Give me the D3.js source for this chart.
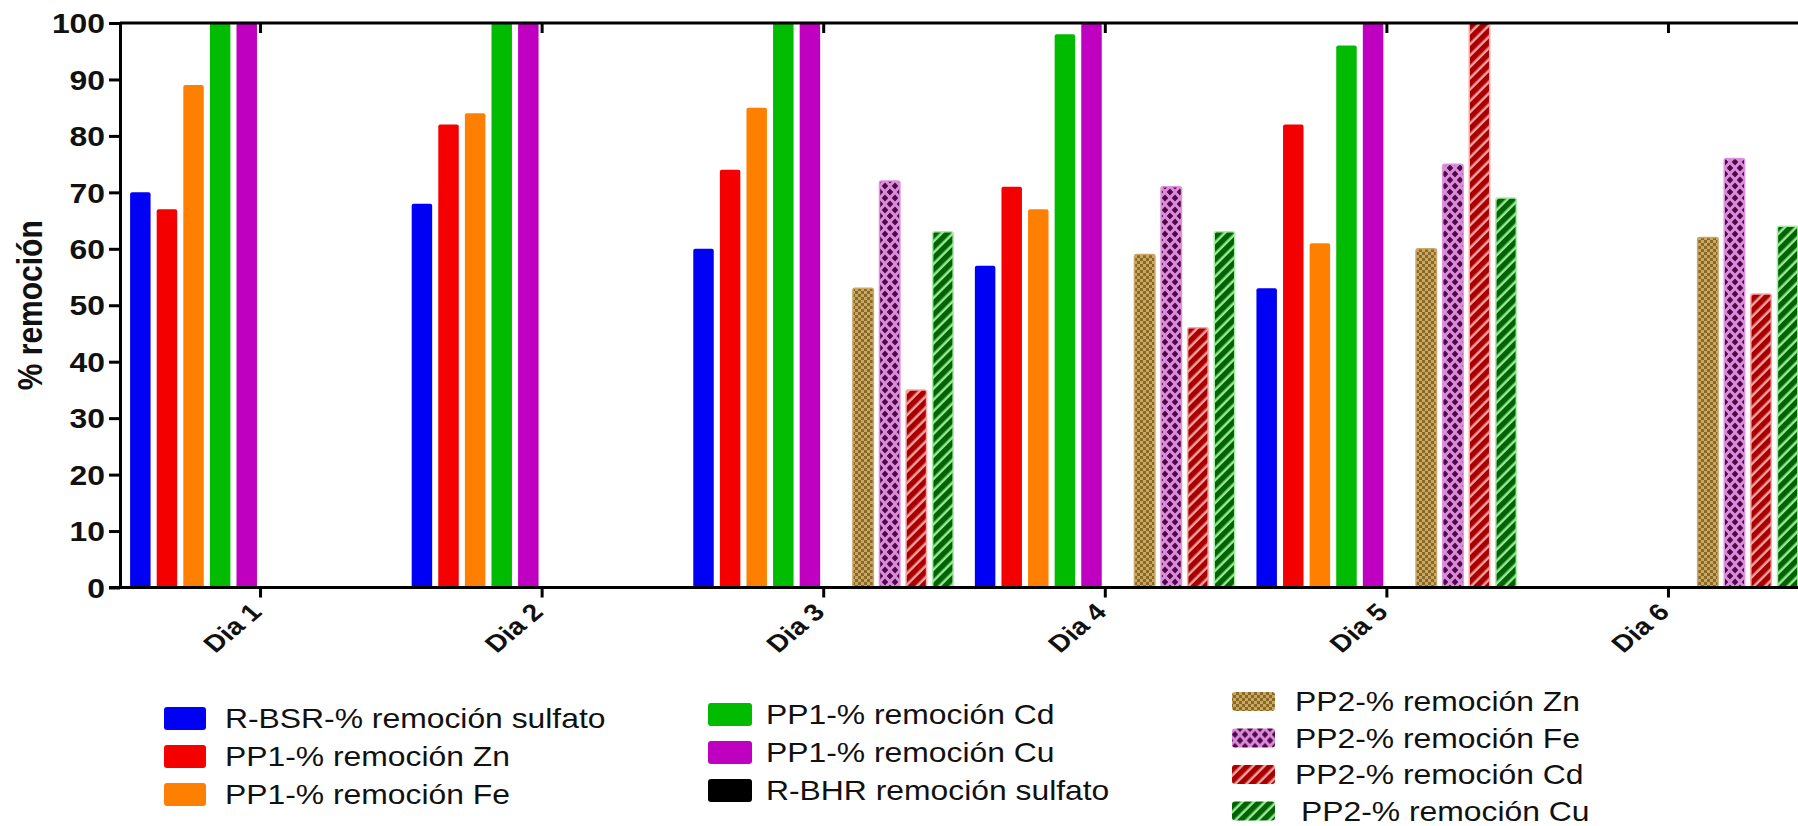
<!DOCTYPE html>
<meta charset="utf-8">
<style>
body { margin: 0; background: #fff; }
svg { display: block; }
text { font-family: "Liberation Sans", Arial, sans-serif; fill: #111; }
.axis path, .axis line { stroke: #000; stroke-width: 3px; }
</style>
<svg width="1798" height="826"></svg>
<script src="https://d3js.org/d3.v7.min.js"></script>
<script>

var days = ["Dia 1", "Dia 2", "Dia 3", "Dia 4", "Dia 5", "Dia 6"];

// one array per data set, one value per day (null = no bar)
var rbsrSulfato = [70, 68, 60, 57, 53, null];
var pp1Zn = [67, 82, 74, 71, 82, null];
var pp1Fe = [89, 84, 85, 67, 61, null];
var pp1Cd = [100, 100, 100, 98, 96, null];
var pp1Cu = [100, 100, 100, 100, 100, null];
var rbhrSulfato = [null, null, null, null, null, null];
var pp2Zn = [null, null, 53, 59, 60, 62];
var pp2Fe = [null, null, 72, 71, 75, 76];
var pp2Cd = [null, null, 35, 46, 100, 52];
var pp2Cu = [null, null, 63, 63, 69, 64];

var yTicks = [0, 10, 20, 30, 40, 50, 60, 70, 80, 90, 100];

var series = [
  { key: "rbsr", label: "R-BSR-% remoción sulfato", values: rbsrSulfato, fill: "#0000f5" },
  { key: "zn1", label: "PP1-% remoción Zn", values: pp1Zn, fill: "#f50000" },
  { key: "fe1", label: "PP1-% remoción Fe", values: pp1Fe, fill: "#ff8000" },
  { key: "cd1", label: "PP1-% remoción Cd", values: pp1Cd, fill: "#00bb00" },
  { key: "cu1", label: "PP1-% remoción Cu", values: pp1Cu, fill: "#c000c0" },
  { key: "rbhr", label: "R-BHR remoción sulfato", values: rbhrSulfato, fill: "#000" },
  { key: "zn2", label: "PP2-% remoción Zn", values: pp2Zn, fill: "url(#pZn)", edge: "#c9a86a" },
  { key: "fe2", label: "PP2-% remoción Fe", values: pp2Fe, fill: "url(#pFe)", edge: "#dc96dc" },
  { key: "cd2", label: "PP2-% remoción Cd", values: pp2Cd, fill: "url(#pCd)", edge: "#f7a8a8" },
  { key: "cu2", label: "PP2-% remoción Cu", values: pp2Cu, fill: "url(#pCu)", edge: "#a8eea8" }
];

var svg = d3.select("svg");
var plotLeft = 120, plotTop = 23, plotBottom = 587.5, plotRight = 1808;
var sx = 1.18; // the picture is a little wider than tall, text too

var defs = svg.append("defs");

// checker for PP2 Zn
var pz = defs.append("pattern").attr("id", "pZn").attr("patternUnits", "userSpaceOnUse")
    .attr("width", 6).attr("height", 6);
pz.append("rect").attr("width", 6).attr("height", 6).attr("fill", "#c9a862");
pz.append("rect").attr("width", 3).attr("height", 3).attr("fill", "#8a6828");
pz.append("rect").attr("x", 3).attr("y", 3).attr("width", 3).attr("height", 3).attr("fill", "#8a6828");

// diamonds for PP2 Fe
var pf = defs.append("pattern").attr("id", "pFe").attr("patternUnits", "userSpaceOnUse")
    .attr("width", 10).attr("height", 12);
pf.append("rect").attr("width", 10).attr("height", 12).attr("fill", "#da8cda");
pf.append("path").attr("d", "M5,2.5L8.3,6L5,9.5L1.7,6Z M0,-3.5L3.3,0L0,3.5L-3.3,0Z M10,-3.5L13.3,0L10,3.5L6.7,0Z M0,8.5L3.3,12L0,15.5L-3.3,12Z M10,8.5L13.3,12L10,15.5L6.7,12Z")
    .attr("fill", "#500848");

// stripes for PP2 Cd and Cu
function stripes(id, dark, light) {
  var p = defs.append("pattern").attr("id", id).attr("patternUnits", "userSpaceOnUse")
      .attr("width", 8).attr("height", 8).attr("patternTransform", "rotate(45)");
  p.append("rect").attr("width", 8).attr("height", 8).attr("fill", light);
  p.append("rect").attr("width", 5.5).attr("height", 8).attr("fill", dark);
}
stripes("pCd", "#a80000", "#f7a0a0");
stripes("pCu", "#006400", "#9be89b");

var x0 = d3.scaleBand().domain(days).range([plotLeft, plotRight])
    .paddingInner(0.0554).paddingOuter(0.025);
var x1 = d3.scaleBand().domain(series.map(function(s) { return s.key; }))
    .range([0, x0.bandwidth()]).paddingInner(0.23).paddingOuter(0.115);
var y = d3.scaleLinear().domain([0, 100]).range([plotBottom, plotTop]);

// bars
var bars = [];
series.forEach(function(s) {
  s.values.forEach(function(v, i) {
    if (v != null) bars.push({ s: s, day: days[i], v: v });
  });
});

svg.append("g").selectAll("rect")
  .data(bars)
  .enter().append("rect")
    .attr("x", function(d) { return x0(d.day) + x1(d.s.key); })
    .attr("y", function(d) { return y(d.v); })
    .attr("width", x1.bandwidth())
    .attr("height", function(d) { return y(0) - y(d.v); })
    .attr("rx", 2)
    .attr("fill", function(d) { return d.s.fill; })
    .attr("stroke", function(d) { return d.s.edge || "none"; })
    .attr("stroke-width", 1.5);

// axes
function stretch(sel) {
  sel.each(function() {
    var t = d3.select(this);
    var ax = +t.attr("x") || 0;
    t.attr("transform", "translate(" + ax + ",0) scale(" + sx + ",1) translate(" + (-ax) + ",0)");
  });
}

var yAxis = svg.append("g").attr("class", "axis")
    .attr("transform", "translate(" + plotLeft + ",0)")
    .call(d3.axisLeft(y).tickValues(yTicks).tickSize(11).tickSizeOuter(0).tickPadding(4));
yAxis.selectAll("text")
    .style("font-size", "27px").style("font-weight", "bold").attr("dy", "0.36em");
stretch(yAxis.selectAll("text"));

var dayCenter = function(d) { return x0(d) + x0.bandwidth() / 2; };
var xTickScale = d3.scaleOrdinal().domain(days).range(days.map(dayCenter));

var xAxis = svg.append("g").attr("class", "axis")
    .attr("transform", "translate(0," + plotBottom + ")")
    .call(d3.axisBottom(xTickScale).tickSize(10).tickSizeOuter(0).tickFormat(""));
xAxis.select(".domain").attr("d", "M" + (plotLeft - 11) + ",0H" + plotRight);

var topAxis = svg.append("g").attr("class", "axis")
    .attr("transform", "translate(0," + plotTop + ")")
    .call(d3.axisTop(xTickScale).tickSize(-10).tickSizeOuter(0).tickFormat(""));
topAxis.select(".domain").attr("d", "M" + plotLeft + ",0H" + plotRight);

// rotated day labels
svg.append("g").selectAll("text")
  .data(days)
  .enter().append("text")
    .attr("transform", function(d) {
      return "translate(" + (dayCenter(d) - 4) + "," + (plotBottom + 20) + ") scale(" + sx + ",1) rotate(-45)";
    })
    .attr("text-anchor", "end")
    .attr("dy", "0.35em")
    .style("font-size", "24px").style("font-weight", "bold")
    .text(function(d) { return d; });

// y title
svg.append("text")
    .attr("transform", "translate(42," + ((plotTop + plotBottom) / 2) + ") scale(" + sx + ",1) rotate(-90)")
    .attr("text-anchor", "middle")
    .style("font-size", "30px").style("font-weight", "bold")
    .text("% remoción");

// legend, three columns
var legendCols = [
  { keys: ["rbsr", "zn1", "fe1"], x: 164, tx: 225, y0: 707, dy: 38, w: 42, h: 23 },
  { keys: ["cd1", "cu1", "rbhr"], x: 708, tx: 766, y0: 703, dy: 38, w: 44, h: 23 },
  { keys: ["zn2", "fe2", "cd2", "cu2"], x: 1232, tx: 1295, y0: 692, dy: 36.5, w: 43, h: 19 }
];
var byKey = {};
series.forEach(function(s) { byKey[s.key] = s; });

legendCols.forEach(function(col) {
  var g = svg.append("g");
  var item = g.selectAll("g").data(col.keys).enter().append("g")
      .attr("transform", function(k, i) { return "translate(0," + (col.y0 + i * col.dy) + ")"; });
  item.append("rect")
      .attr("x", col.x).attr("width", col.w).attr("height", col.h).attr("rx", 3)
      .attr("fill", function(k) { return byKey[k].fill; });
  item.append("text")
      .attr("x", function(k) { return col.tx + (k === "cu2" ? 6 : 0); })
      .attr("y", col.h / 2)
      .attr("dy", "0.36em")
      .style("font-size", "27px")
      .text(function(k) { return byKey[k].label; });
  stretch(item.selectAll("text"));
});

</script>
